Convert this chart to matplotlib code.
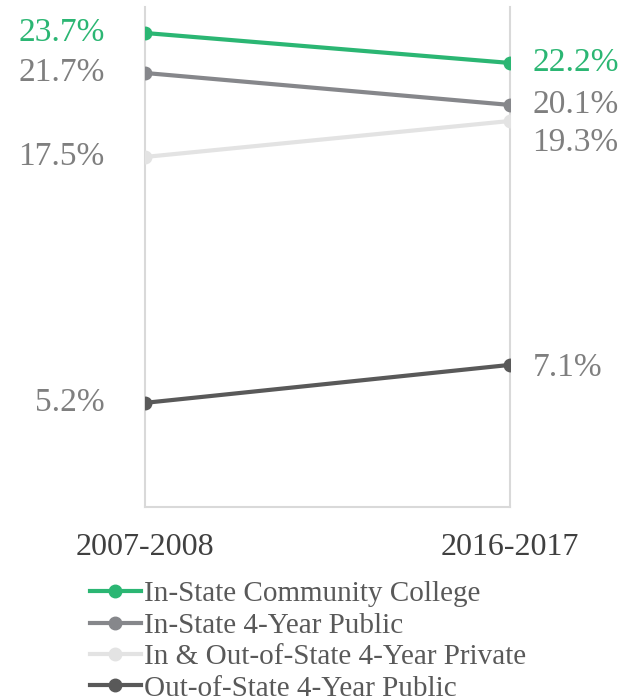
import matplotlib.pyplot as plt

plt.rcParams["font.family"] = ["Liberation Serif", "DejaVu Serif"]

years = ["2007-2008", "2016-2017"]
series = [
    "In-State Community College",
    "In-State 4-Year Public",
    "In & Out-of-State 4-Year Private",
    "Out-of-State 4-Year Public",
]
start = [23.7, 21.7, 17.5, 5.2]
end = [22.2, 20.1, 19.3, 7.1]
colors = ["#2bb673", "#86878b", "#e3e3e3", "#595959"]
label_colors = ["#2bb673", "#7f7f7f", "#7f7f7f", "#7f7f7f"]
# vertical nudge (points) for the right-hand labels where they crowd
right_dy = [0, 0, -16, -2]

fig = plt.figure(figsize=(6.2, 7.0), dpi=100)
ax = fig.add_axes([0.234, 0.276, 0.589, 0.714])

x = [0, 1]
for name, a, b, c, lc, dy in zip(series, start, end, colors, label_colors, right_dy):
    ax.plot(x, [a, b], color=c, lw=3, marker="o", ms=9, label=name, zorder=3)
    ax.annotate(f"{a:.1f}%", (0, a), xytext=(-29, 0), textcoords="offset points",
                ha="right", va="center", fontsize=24, color=lc)
    ax.annotate(f"{b:.1f}%", (1, b), xytext=(16, dy), textcoords="offset points",
                ha="left", va="center", fontsize=24, color=lc)

ax.set_xlim(0, 1)
ax.set_ylim(0, 25)
ax.set_yticks([])
ax.set_xticks(x)
ax.set_xticklabels(years, fontsize=23, color="#404040")
ax.tick_params(axis="x", length=0, pad=19)
for side in ["left", "right", "bottom"]:
    ax.spines[side].set_color("#d9d9d9")
    ax.spines[side].set_linewidth(1.5)
ax.spines["top"].set_visible(False)

leg = fig.legend(loc="upper left", bbox_to_anchor=(0.145, 0.17), frameon=False,
                 fontsize=21, handlelength=1.75, handletextpad=0.12,
                 labelspacing=0.17, borderaxespad=0, borderpad=0)
for t in leg.get_texts():
    t.set_color("#595959")

fig.savefig("out.png", dpi=100)
